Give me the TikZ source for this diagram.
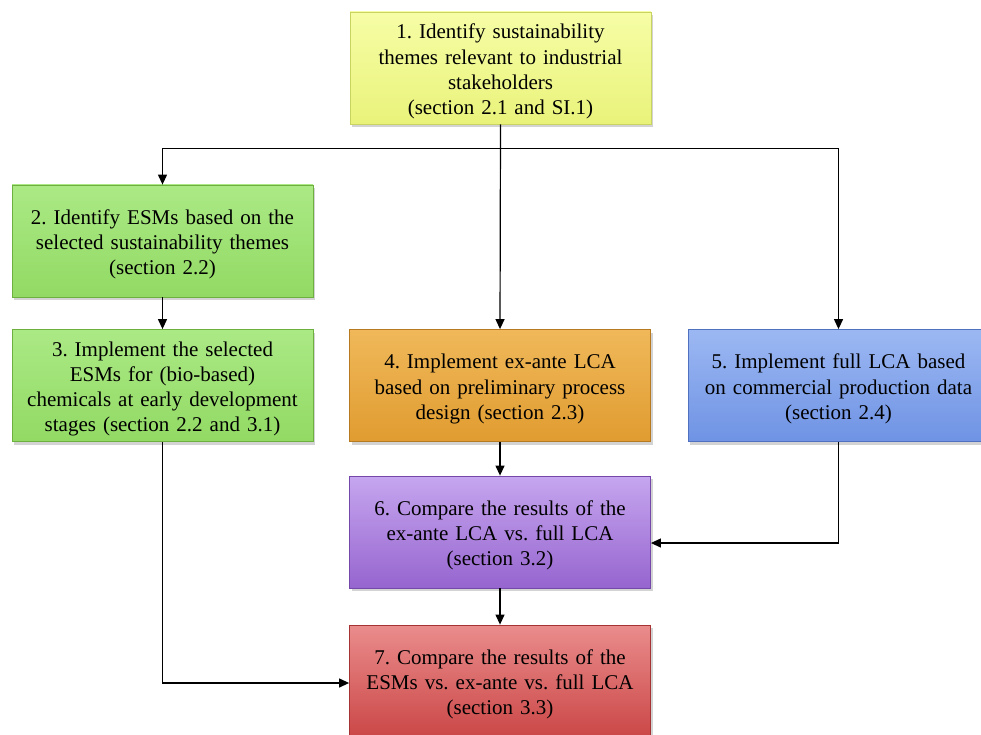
\documentclass[tikz,border=0pt]{standalone}
\usepackage{fontspec}
\setmainfont{Liberation Serif}
\frenchspacing
\usetikzlibrary{arrows.meta,shadows}
\definecolor{yT}{HTML}{F6FDA6}\definecolor{yB}{HTML}{E9F37A}\definecolor{yD}{HTML}{C9D460}
\definecolor{gT}{HTML}{ABE985}\definecolor{gB}{HTML}{92DA64}\definecolor{gD}{HTML}{6DB040}
\definecolor{oT}{HTML}{F0B85A}\definecolor{oB}{HTML}{E09C30}\definecolor{oD}{HTML}{B87A20}
\definecolor{bT}{HTML}{9CB8F3}\definecolor{bB}{HTML}{6F93E4}\definecolor{bD}{HTML}{5071C0}
\definecolor{pT}{HTML}{C6A6EF}\definecolor{pB}{HTML}{9665CF}\definecolor{pD}{HTML}{7448AA}
\definecolor{rT}{HTML}{EA8C8C}\definecolor{rB}{HTML}{CB4747}\definecolor{rD}{HTML}{A53333}
\tikzset{
  stepbox/.style={rectangle, minimum width=301pt, minimum height=112pt, line width=0.8pt, inner sep=0pt,
    drop shadow={opacity=0.35, shadow xshift=2pt, shadow yshift=-3pt}},
  txt/.style={text width=296pt, align=center, font=\fontsize{21}{25.3}\selectfont, inner sep=0pt, yshift=-3.5pt},
  fillc/.style n args={3}{top color=#1, bottom color=#2, draw=#3},
  arr/.style={draw=black, line width=1.2pt, -{Triangle[length=10pt,width=9pt]}}
}
\begin{document}
\begin{tikzpicture}[x=1pt,y=-1pt]
\useasboundingbox (0,0) rectangle (981,735);
\node[stepbox, fillc={yT}{yB}{yD}, label={[txt]center:{1. Identify sustainability\\themes relevant to industrial\\stakeholders\\(section 2.1 and SI.1)}}] (b1) at (500.5,68) {};
\node[stepbox, fillc={gT}{gB}{gD}, label={[txt]center:{2. Identify ESMs based on the\\selected sustainability themes\\(section 2.2)}}] (b2) at (162.5,241) {};
\node[stepbox, fillc={gT}{gB}{gD}, label={[txt]center:{3. Implement the selected\\ESMs for (bio-based)\\chemicals at early development\\stages (section 2.2 and 3.1)}}] (b3) at (162.5,385.5) {};
\node[stepbox, fillc={oT}{oB}{oD}, label={[txt]center:{4. Implement ex-ante LCA\\based on preliminary process\\design (section 2.3)}}] (b4) at (500,385.5) {};
\node[stepbox, fillc={bT}{bB}{bD}, label={[txt]center:{5. Implement full LCA based\\on commercial production data\\(section 2.4)}}] (b5) at (838.5,385.5) {};
\node[stepbox, fillc={pT}{pB}{pD}, label={[txt]center:{6. Compare the results of the\\ex-ante LCA vs. full LCA\\(section 3.2)}}] (b6) at (500,532) {};
\node[stepbox, fillc={rT}{rB}{rD}, label={[txt]center:{7. Compare the results of the\\ESMs vs. ex-ante vs. full LCA\\(section 3.3)}}] (b7) at (500,681) {};
\path (b1.south) ++(0,24) coordinate (j);
\draw[arr] (b1.south) -- (b4.north);
\draw[arr] (j) -| (b2.north);
\draw[arr] (j) -| (b5.north);
\draw[arr] (b2) -- (b3);
\draw[arr] (b4) -- (b6);
\draw[arr] (b6) -- (b7);
\draw[arr] (b3.south) |- ([yshift=-2pt]b7.west);
\draw[arr] (b5.south) |- ([yshift=-11pt]b6.east);
\end{tikzpicture}
\end{document}
